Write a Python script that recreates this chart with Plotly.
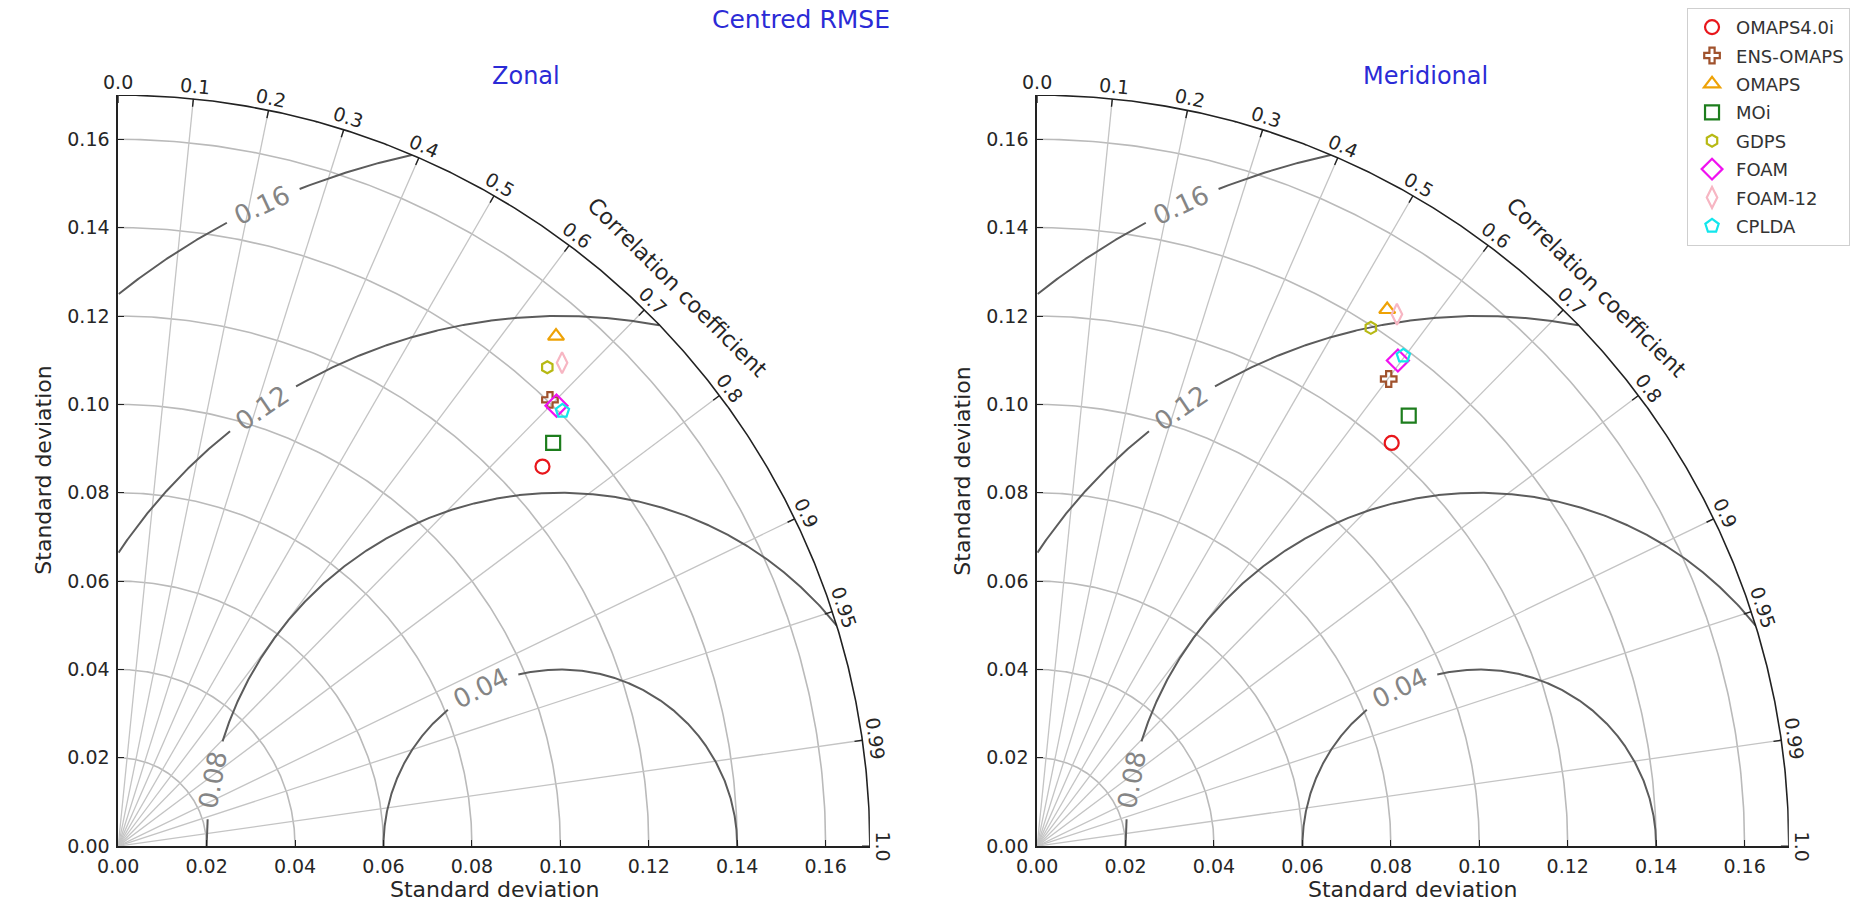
import numpy as np
import plotly.graph_objects as go

# ---- data -------------------------------------------------------------
models = ["OMAPS4.0i", "ENS-OMAPS", "OMAPS", "MOi", "GDPS", "FOAM", "FOAM-12", "CPLDA"]

# standard deviation and correlation of each model against the reference
zonal_std = [0.1288, 0.1405, 0.1521, 0.1342, 0.1455, 0.1406, 0.1485, 0.1407]
zonal_corr = [0.745, 0.695, 0.651, 0.733, 0.667, 0.705, 0.676, 0.714]
merid_std = [0.1215, 0.1323, 0.1450, 0.1287, 0.1395, 0.1369, 0.1453, 0.1385]
merid_corr = [0.660, 0.601, 0.546, 0.653, 0.541, 0.596, 0.560, 0.598]

ref_std = 0.10
max_std = 0.17
std_ticks = [0.00, 0.02, 0.04, 0.06, 0.08, 0.10, 0.12, 0.14, 0.16]
corr_ticks = [0.0, 0.1, 0.2, 0.3, 0.4, 0.5, 0.6, 0.7, 0.8, 0.9, 0.95, 0.99, 1.0]
corr_tick_text = ["0.0", "0.1", "0.2", "0.3", "0.4", "0.5", "0.6", "0.7", "0.8",
                  "0.9", "0.95", "0.99", "1.0"]
rmse_levels = [0.04, 0.08, 0.12, 0.16]
rmse_text = ["0.04", "0.08", "0.12", "0.16"]

# ---- styles -----------------------------------------------------------
symbols = ["circle-open", "cross-open", "triangle-up-open", "square-open",
           "hexagon-open", "diamond-open", "diamond-tall-open", "pentagon-open"]
colors = ["#e8161b", "#a0522d", "#eea206", "#1d7d1d",
          "#b7b914", "#f012f0", "#f7b6c3", "#12e6ec"]
sizes = [14, 13, 14, 14, 12, 17, 15, 14]
rmse_label_deg = [116.6, 169.2, 124.2, 114.9]   # label spot on each contour (deg around ref point)
LABEL_GAP_PX = 40                               # half-width of the break left for a label

FONT = "DejaVu Sans"
TEXT = "#262626"
W, H = 1865, 915
PX = 4472.0            # pixels per unit of standard deviation
ORIGIN_Y = 856.5
TITLE_BLUE = "#2b2bd6"

panels = [
    dict(name="Zonal", std=zonal_std, corr=zonal_corr, x0=98.3, title_x=511),
    dict(name="Meridional", std=merid_std, corr=merid_corr, x0=1027.7, title_x=1420),
]

fig = go.Figure()
annotations = []


def arc_xy(radius, th0, th1, n=200):
    th = np.linspace(th0, th1, n)
    return radius * np.cos(th), radius * np.sin(th)


def to_paper(panel, x, y):
    """Std-dev plane coordinates -> paper coordinates for a panel."""
    return (panel["x0"] + x * PX) / W, (H - ORIGIN_Y + y * PX) / H


def label(panel, x, y, text, size, color=TEXT, angle=0):
    px, py = to_paper(panel, x, y)
    annotations.append(dict(
        x=px, y=py, xref="paper", yref="paper", xanchor="center", yanchor="middle",
        text=text, showarrow=False, textangle=angle,
        font=dict(family=FONT, size=size, color=color)))


for k, p in enumerate(panels):
    ax = "" if k == 0 else str(k + 1)
    xa, ya = "x" + ax, "y" + ax

    # std-dev grid arcs
    gx, gy = [], []
    for s in std_ticks[1:]:
        x, y = arc_xy(s, 0, np.pi / 2)
        gx += list(x) + [None]
        gy += list(y) + [None]
    fig.add_trace(go.Scatter(x=gx, y=gy, mode="lines", xaxis=xa, yaxis=ya,
                             line=dict(color="#bababa", width=1.6),
                             hoverinfo="skip", showlegend=False))

    # correlation rays
    rx, ry = [], []
    for c in corr_ticks[1:-1]:
        th = np.arccos(c)
        rx += [0, max_std * np.cos(th), None]
        ry += [0, max_std * np.sin(th), None]
    fig.add_trace(go.Scatter(x=rx, y=ry, mode="lines", xaxis=xa, yaxis=ya,
                             line=dict(color="#c4c4c4", width=1.3),
                             hoverinfo="skip", showlegend=False))

    # centred RMSE contours around the reference point, broken at their labels
    cx, cy = [], []
    for lev, lab_deg, txt in zip(rmse_levels, rmse_label_deg, rmse_text):
        phi = np.linspace(0, np.pi, 1441)
        x = ref_std + lev * np.cos(phi)
        y = lev * np.sin(phi)
        half_gap = LABEL_GAP_PX / (lev * PX)
        keep = (np.hypot(x, y) <= max_std) & (x >= 0) & \
               (np.abs(phi - np.radians(lab_deg)) > half_gap)
        for xi, yi, ok in zip(x, y, keep):
            if ok:
                cx.append(xi)
                cy.append(yi)
            elif cx and cx[-1] is not None:
                cx.append(None)
                cy.append(None)
        cx.append(None)
        cy.append(None)
        lphi = np.radians(lab_deg)
        label(p, ref_std + lev * np.cos(lphi), lev * np.sin(lphi), txt, 26,
              color="#858585", angle=90 - lab_deg)
    fig.add_trace(go.Scatter(x=cx, y=cy, mode="lines", xaxis=xa, yaxis=ya,
                             line=dict(color="#5c5c5c", width=2),
                             hoverinfo="skip", showlegend=False))

    # outer boundary arc and its correlation ticks
    ox, oy = arc_xy(max_std, 0, np.pi / 2, 400)
    fig.add_trace(go.Scatter(x=ox, y=oy, mode="lines", xaxis=xa, yaxis=ya,
                             line=dict(color="#222222", width=1.6),
                             hoverinfo="skip", showlegend=False))
    tx, ty = [], []
    for c in corr_ticks:
        th = np.arccos(c)
        r_in = max_std - 8 / PX
        tx += [r_in * np.cos(th), max_std * np.cos(th), None]
        ty += [r_in * np.sin(th), max_std * np.sin(th), None]
    fig.add_trace(go.Scatter(x=tx, y=ty, mode="lines", xaxis=xa, yaxis=ya,
                             line=dict(color="#222222", width=1.4),
                             hoverinfo="skip", showlegend=False))

    # correlation tick labels along the outer arc
    r_lab = max_std + 13 / PX
    for c, txt in zip(corr_ticks, corr_tick_text):
        th = np.arccos(c)
        label(p, r_lab * np.cos(th), r_lab * np.sin(th), txt, 19,
              angle=90 - np.degrees(th))
    r_ttl = max_std + 40 / PX
    label(p, r_ttl * np.cos(np.pi / 4), r_ttl * np.sin(np.pi / 4),
          "Correlation coefficient", 22, angle=45)

    # model points
    for i, m in enumerate(models):
        th = np.arccos(p["corr"][i])
        s = p["std"][i]
        fig.add_trace(go.Scatter(
            x=[s * np.cos(th)], y=[s * np.sin(th)], mode="markers",
            xaxis=xa, yaxis=ya, name=m, legendgroup=m, showlegend=(k == 0),
            marker=dict(symbol=symbols[i], size=sizes[i], color=colors[i],
                        line=dict(width=2.2, color=colors[i])),
            cliponaxis=False))

    # axes
    x_dom = [p["x0"] / W, (p["x0"] + max_std * PX) / W]
    y_dom = [(H - ORIGIN_Y) / H, (H - ORIGIN_Y + max_std * PX) / H]
    axis_style = dict(range=[0, max_std], showgrid=False, zeroline=False,
                      showline=True, linecolor="#222222", linewidth=1.6,
                      ticks="inside", ticklen=6, tickwidth=1.4, tickcolor="#222222",
                      tickvals=std_ticks, tickformat=".2f",
                      tickfont=dict(family=FONT, size=19, color=TEXT))
    fig.layout["xaxis" + ax] = dict(axis_style, domain=x_dom, anchor=ya,
                                    ticklabelstandoff=2)
    fig.layout["yaxis" + ax] = dict(axis_style, domain=y_dom, anchor=xa,
                                    ticklabelstandoff=3)

    # axis titles and panel title
    annotations.append(dict(
        x=(p["x0"] + max_std * PX / 2) / W, y=1 - 900 / H, xref="paper", yref="paper",
        xanchor="center", yanchor="middle", text="Standard deviation", showarrow=False,
        font=dict(family=FONT, size=22, color=TEXT)))
    annotations.append(dict(
        x=(p["x0"] - 75) / W, y=(H - ORIGIN_Y + max_std * PX / 2) / H,
        xref="paper", yref="paper", xanchor="center", yanchor="middle",
        text="Standard deviation", showarrow=False, textangle=-90,
        font=dict(family=FONT, size=22, color=TEXT)))
    annotations.append(dict(
        x=p["title_x"] / W, y=1 - 77 / H, xref="paper", yref="paper",
        xanchor="center", yanchor="middle", text=p["name"], showarrow=False,
        font=dict(family=FONT, size=24, color=TITLE_BLUE)))

annotations.append(dict(
    x=789 / W, y=1 - 20 / H, xref="paper", yref="paper", xanchor="center",
    yanchor="middle", text="Centred RMSE", showarrow=False,
    font=dict(family=FONT, size=25, color=TITLE_BLUE)))

fig.update_layout(
    width=W, height=H, margin=dict(l=0, r=0, t=0, b=0),
    paper_bgcolor="white", plot_bgcolor="white",
    annotations=annotations,
    legend=dict(x=1685 / W, y=1 - 8 / H, xanchor="left", yanchor="top",
                bgcolor="white", bordercolor="#cfcfcf", borderwidth=1,
                font=dict(family=FONT, size=18, color="#333333"),
                itemwidth=38, traceorder="grouped", tracegroupgap=2),
    font=dict(family=FONT),
)

fig.write_html("out.html")
